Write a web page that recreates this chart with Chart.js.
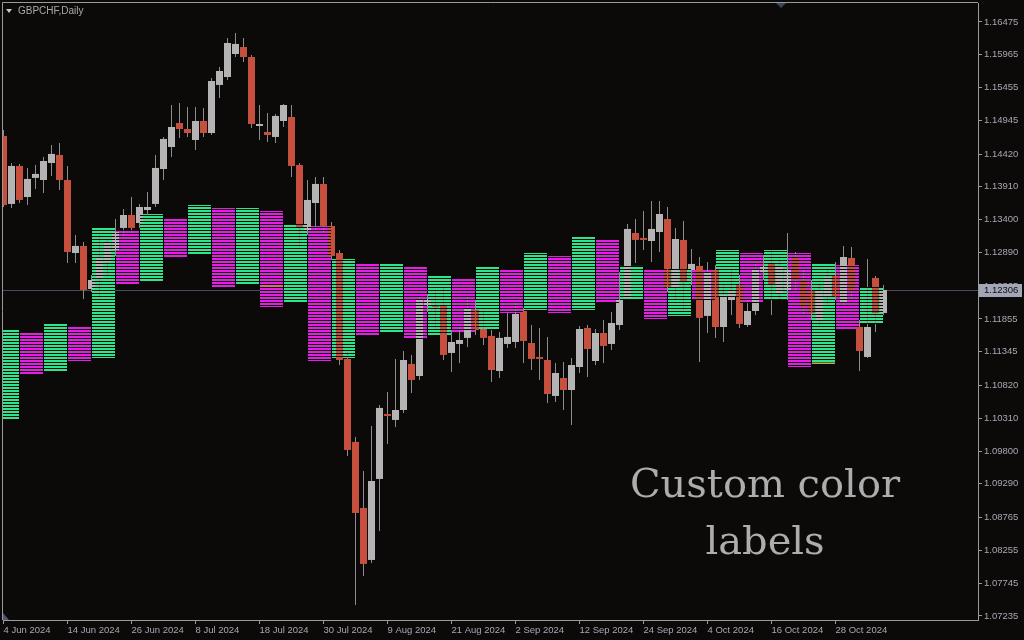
<!DOCTYPE html>
<html><head><meta charset="utf-8">
<script src="https://cdn.jsdelivr.net/npm/chart.js@4.4.0/dist/chart.umd.min.js"></script>
<style>html,body{margin:0;padding:0;background:#0c0a09;overflow:hidden}canvas{display:block}</style>
</head><body><canvas id="c" width="1024" height="640"></canvas>
<script>
// ---- data (GBPCHF daily) ----
const openP = [1.14702,1.13644,1.14235,1.13752,1.14049,1.14017,1.14281,1.14406,1.14017,1.12881,
1.12991,1.12321,1.12493,1.12742,1.12928,1.13271,1.13472,1.13348,1.13550,1.13644,
1.14188,1.14530,1.14903,1.14810,1.14639,1.14934,1.14748,1.15495,1.15619,1.15977,
1.16086,1.15930,1.14857,1.14764,1.14686,1.14934,1.14997,1.14250,1.13239,1.13659,
1.13955,1.13302,1.12881,1.11233,1.09942,1.08915,1.08106,1.09366,1.10377,1.10284,
1.10439,1.11155,1.10968,1.12057,1.12072,1.12072,1.11326,1.11466,1.11560,1.11995,
1.11699,1.11591,1.11045,1.11466,1.11497,1.11979,1.11481,1.11264,1.11217,1.10657,
1.10937,1.10750,1.11108,1.11715,1.11201,1.11637,1.11466,1.11761,1.12182,1.13192,
1.13115,1.13068,1.13208,1.13410,1.12352,1.13084,1.12617,1.12680,1.11902,1.12617,
1.11730,1.12150,1.12399,1.11761,1.11979,1.12586,1.12726,1.12259,1.12306,1.12819,
1.12461,1.12306,1.11839,1.12197,1.12524,1.12103,1.12804,1.11730,1.11264,1.12493,
1.11948];
const highP = [1.14795,1.14281,1.14266,1.14204,1.14250,1.14375,1.14561,1.14592,1.14235,1.13161,
1.13053,1.12539,1.13161,1.13084,1.13410,1.13566,1.13752,1.13644,1.13830,1.14406,
1.14686,1.15183,1.15214,1.15152,1.15152,1.15137,1.15604,1.15775,1.16226,1.16303,
1.16226,1.15961,1.15183,1.15059,1.15044,1.15199,1.15183,1.14281,1.14017,1.14064,
1.14064,1.13364,1.12928,1.11342,1.10019,1.09490,1.10191,1.10517,1.10719,1.11233,
1.11357,1.11295,1.12213,1.12244,1.12306,1.12352,1.11684,1.11761,1.12213,1.12150,
1.11995,1.11684,1.11653,1.11948,1.12119,1.12026,1.11761,1.11715,1.11575,1.11170,
1.11186,1.11249,1.11746,1.11761,1.11699,1.11839,1.11964,1.12586,1.13333,1.13410,
1.13534,1.13690,1.13690,1.13597,1.13271,1.13379,1.12944,1.12819,1.12742,1.12695,
1.12383,1.12617,1.12539,1.12150,1.12742,1.12850,1.12928,1.12773,1.13192,1.12897,
1.12617,1.12461,1.12383,1.12617,1.12742,1.12991,1.12975,1.11839,1.12788,1.12524,
1.12383];
const lowP = [1.13597,1.13582,1.13659,1.13628,1.13877,1.13814,1.14080,1.13861,1.12726,1.12726,
1.12166,1.12275,1.12182,1.12539,1.12835,1.13130,1.13192,1.13271,1.13472,1.13597,
1.14017,1.14375,1.14671,1.14686,1.14484,1.14686,1.14717,1.15293,1.15573,1.15930,
1.15853,1.14826,1.14639,1.14608,1.14592,1.14841,1.14064,1.12975,1.13161,1.13239,
1.13208,1.12773,1.11139,1.09724,1.07406,1.07857,1.08059,1.08557,1.09911,1.10175,
1.10392,1.10703,1.10906,1.11964,1.11684,1.11217,1.11030,1.11170,1.11419,1.11606,
1.11450,1.10875,1.10937,1.11404,1.11404,1.11170,1.11061,1.10906,1.10548,1.10564,
1.10439,1.10206,1.11014,1.10952,1.11139,1.11170,1.11373,1.11684,1.12150,1.12726,
1.12928,1.12742,1.12897,1.12275,1.12150,1.11995,1.12383,1.11186,1.11637,1.11560,
1.11497,1.11917,1.11715,1.11730,1.11917,1.12461,1.11917,1.12150,1.12150,1.12306,
1.11917,1.11839,1.11761,1.12072,1.12150,1.12072,1.12150,1.11045,1.11249,1.11653,
1.11917];
const closeP = [1.13628,1.14235,1.13706,1.14033,1.14111,1.14312,1.14422,1.14017,1.12897,1.12991,
1.12306,1.12461,1.12804,1.13037,1.13208,1.13472,1.13271,1.13597,1.13597,1.14204,
1.14655,1.14841,1.14810,1.14748,1.14934,1.14748,1.15557,1.15712,1.16148,1.16133,
1.15930,1.14888,1.14888,1.14717,1.15013,1.15183,1.14235,1.13271,1.13706,1.13955,
1.13302,1.12835,1.11217,1.09817,1.08837,1.08044,1.09334,1.10471,1.10346,1.10439,
1.11217,1.10906,1.12150,1.12166,1.12041,1.11295,1.11497,1.11528,1.12010,1.11684,
1.11560,1.11061,1.11560,1.11575,1.11933,1.11512,1.11233,1.11233,1.10688,1.11014,
1.10750,1.11139,1.11699,1.11388,1.11637,1.11435,1.11792,1.12150,1.13255,1.13084,
1.13084,1.13255,1.13488,1.12352,1.13099,1.12430,1.12711,1.11871,1.12586,1.11730,
1.12228,1.12306,1.11777,1.11979,1.12617,1.12680,1.12383,1.12664,1.12617,1.12461,
1.12041,1.11948,1.12306,1.12508,1.12197,1.12819,1.12306,1.11357,1.11730,1.11948,
1.12306];

// three-bar colour label boxes
const boxHigh = [1.11684,1.11637,1.11777,1.11730,1.13286,1.13239,1.13488,1.13426,1.13628,1.13582,
1.13582,1.13534,1.13333,1.13302,1.12788,1.12726,1.12726,1.12680,1.12539,1.12477,
1.12680,1.12633,1.12881,1.12835,1.13130,1.13084,1.12680,1.12633,1.12633,1.12617,
1.12928,1.12881,1.12928,1.12881,1.12726,1.12695,1.12352];
const boxLow = [1.10299,1.10999,1.11045,1.11201,1.11249,1.12399,1.12445,1.12804,1.12850,1.12352,
1.12399,1.12041,1.12103,1.11201,1.11249,1.11606,1.11653,1.11544,1.11606,1.11653,
1.11699,1.11948,1.11995,1.11948,1.11995,1.12103,1.12150,1.11855,1.11902,1.12150,
1.12197,1.12103,1.12150,1.11108,1.11155,1.11699,1.11777];
const boxDir = ['up','down','up','down','up','down','up','down','up','down',
'up','down','up','down','up','down','up','down','up','down',
'up','down','up','down','up','down','up','down','up','down',
'up','down','up','down','up','down','up'];
const markBox = [11, 34];
const markLevel = [1.12368, 1.11170];

const dateLabels = ['4 Jun 2024','14 Jun 2024','26 Jun 2024','8 Jul 2024','18 Jul 2024','30 Jul 2024','9 Aug 2024',
'21 Aug 2024','2 Sep 2024','12 Sep 2024','24 Sep 2024','4 Oct 2024','16 Oct 2024','28 Oct 2024'];
const dateTickIndex = [0,8,16,24,32,40,48,56,64,72,80,88,96,104];
const yTickLabels = ['1.16475','1.15965','1.15455','1.14945','1.14420','1.13910','1.13400','1.12890','1.12365',
'1.11855','1.11345','1.10820','1.10310','1.09800','1.09290','1.08765','1.08255','1.07745','1.07235'];
const lastPrice = 1.12306;
const symbolTitle = 'GBPCHF,Daily';
const bigLabel = ['Custom color', 'labels'];

// ---- styling ----
const BG = '#0c0a09';
const canvas = document.getElementById('c');
const g = canvas.getContext('2d');
function stripes(color, onRows, period) {
  const c = document.createElement('canvas'); c.width = 4; c.height = period;
  const x = c.getContext('2d'); x.fillStyle = color;
  onRows.forEach(r => x.fillRect(0, r, 4, 1));
  return g.createPattern(c, 'repeat');
}
const greenPat = stripes('#2fe58c', [0, 1], 3);
const magPat = stripes('#e21fe2', [0, 1], 3);
const gapPat = stripes(BG, [2], 3);
const UP = '#b4b4b4', DOWN = '#c6503d';

const idx = openP.map((_, k) => k);
const boxCenter = i => 0.5 + 3 * i;

const deco = {
  id: 'deco',
  beforeDraw(chart) {
    const c = chart.ctx; c.save(); c.fillStyle = BG; c.fillRect(0, 0, chart.width, chart.height); c.restore();
  },
  beforeDatasetsDraw(chart) {
    const c = chart.ctx, a = chart.chartArea, y = Math.round(chart.scales.y.getPixelForValue(lastPrice)) + 0.5;
    c.save(); c.strokeStyle = '#4a4b5e'; c.lineWidth = 1;
    c.beginPath(); c.moveTo(a.left, y); c.lineTo(a.right, y); c.stroke(); c.restore();
  },
  afterDraw(chart) {
    const c = chart.ctx, a = chart.chartArea;
    c.save();
    c.strokeStyle = '#9a9a9a'; c.lineWidth = 1;
    c.beginPath(); c.moveTo(a.left - 0.5, a.bottom); c.lineTo(a.left - 0.5, a.top - 0.5); c.lineTo(a.right, a.top - 0.5); c.stroke();
    // title
    c.fillStyle = '#c8c8c8';
    c.beginPath(); c.moveTo(6, 9); c.lineTo(12, 9); c.lineTo(9, 13); c.closePath(); c.fill();
    c.fillStyle = '#a9a9a9'; c.font = '10px "Liberation Sans", Arial, sans-serif';
    c.textBaseline = 'alphabetic'; c.textAlign = 'left';
    c.fillText(symbolTitle, 18, 14);
    // small markers
    c.fillStyle = '#3a4260';
    c.beginPath(); c.moveTo(776, a.top); c.lineTo(786, a.top); c.lineTo(781, a.top + 5); c.closePath(); c.fill();
    c.fillStyle = '#4e5674';
    c.beginPath(); c.moveTo(a.left, a.bottom - 7); c.lineTo(a.left, a.bottom); c.lineTo(a.left + 6, a.bottom); c.closePath(); c.fill();
    // price label
    const py = Math.round(chart.scales.y.getPixelForValue(lastPrice));
    c.fillStyle = '#a3a6b6'; c.fillRect(a.right + 1, py - 6, 43, 13);
    c.fillStyle = '#0b0b12'; c.font = '9.5px "Liberation Sans", Arial, sans-serif';
    c.textBaseline = 'middle'; c.fillText(lastPrice.toFixed(5), a.right + 6, py + 0.5);
    // big caption
    c.fillStyle = '#adadad'; c.font = '40px "DejaVu Serif", serif'; c.textAlign = 'center'; c.textBaseline = 'alphabetic';
    c.fillText(bigLabel[0], 765, 497);
    c.fillText(bigLabel[1], 765, 554);
    c.restore();
  }
};

const zeroPad = s => { s.paddingTop = 0; s.paddingBottom = 0; s.paddingLeft = 0; s.paddingRight = 0; };
const axisCol = '#9a9a9a', labelCol = '#a6a8b4';
const tickFont = { family: '"Liberation Sans", Arial, sans-serif', size: 9.5 };

new Chart(canvas, {
  type: 'bar',
  data: {
    datasets: [
      { label: 'boxes', order: 5, grouped: false, barThickness: 23, inflateAmount: 0,
        data: boxHigh.map((h, i) => ({ x: boxCenter(i), y: [boxLow[i], h] })),
        backgroundColor: boxDir.map(d => d === 'up' ? greenPat : magPat), borderWidth: 0 },
      { label: 'wicks', order: 4, grouped: false, barThickness: 1, inflateAmount: 0,
        data: idx.map(k => ({ x: k, y: [lowP[k], highP[k]] })),
        backgroundColor: '#8c8c8c', borderWidth: 0 },
      { label: 'bodies', order: 3, grouped: false, barThickness: 7, inflateAmount: 0, minBarLength: 1,
        data: idx.map(k => ({ x: k, y: [Math.min(openP[k], closeP[k]), Math.max(openP[k], closeP[k])] })),
        backgroundColor: idx.map(k => closeP[k] >= openP[k] ? UP : DOWN), borderWidth: 0 },
      { label: 'gaps', order: 2, grouped: false, barThickness: 23, inflateAmount: 0,
        data: boxHigh.map((h, i) => ({ x: boxCenter(i), y: [boxLow[i], h] })),
        backgroundColor: gapPat, borderWidth: 0 },
      { label: 'marks', order: 1, grouped: false, barThickness: 23, inflateAmount: 0,
        data: markBox.map((b, i) => ({ x: boxCenter(b), y: [markLevel[i] - 0.00008, markLevel[i] + 0.00008] })),
        backgroundColor: '#eaa326', borderWidth: 0 }
    ]
  },
  options: {
    responsive: false, animation: false, devicePixelRatio: 1,
    layout: { padding: { left: 3, top: 3, right: 0, bottom: 0 } },
    plugins: { legend: { display: false }, tooltip: { enabled: false } },
    events: [],
    scales: {
      x: {
        type: 'linear', min: -0.0625, max: 121.8125, offset: false, position: 'bottom',
        afterBuildTicks: s => { s.ticks = dateTickIndex.map(v => ({ value: v })); },
        afterFit: s => { s.height = 20; zeroPad(s); },
        ticks: { callback: (v, i) => dateLabels[i], align: 'start', maxRotation: 0, minRotation: 0, autoSkip: false,
                 padding: 1, color: labelCol, font: tickFont },
        grid: { offset: false, drawOnChartArea: false, drawTicks: true, tickLength: 4, color: axisCol },
        border: { display: true, color: axisCol }
      },
      y: {
        type: 'linear', position: 'right', min: 1.07172, max: 1.16770,
        afterBuildTicks: s => { s.ticks = yTickLabels.map(t => ({ value: parseFloat(t) })); },
        afterFit: s => { s.width = 46; zeroPad(s); },
        ticks: { callback: (v, i) => yTickLabels[i], padding: 2, color: labelCol, font: tickFont },
        grid: { drawOnChartArea: false, drawTicks: true, tickLength: 4, color: axisCol },
        border: { display: true, color: axisCol }
      }
    }
  },
  plugins: [deco]
});
</script>
</body></html>
